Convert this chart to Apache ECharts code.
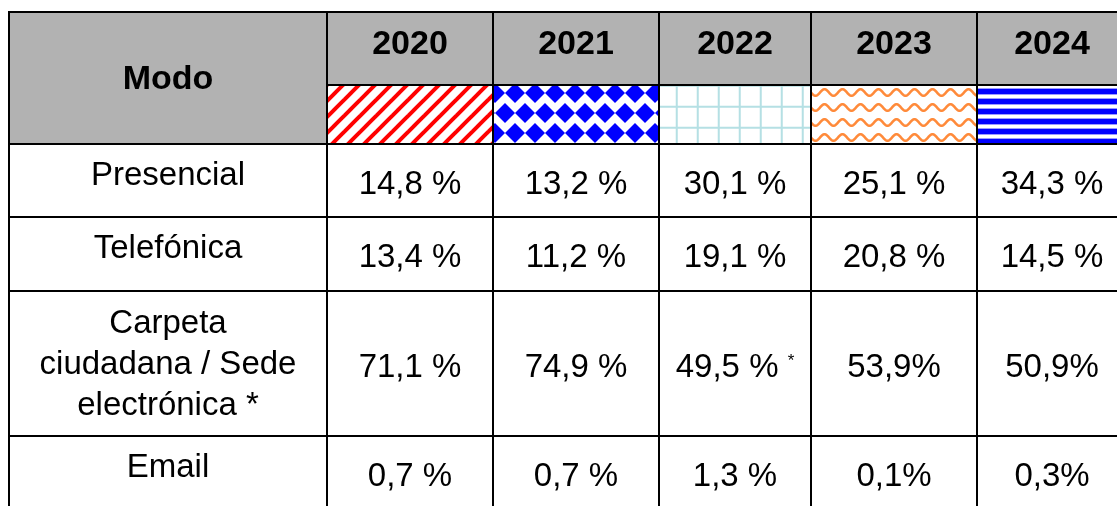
<!DOCTYPE html>
<html><head><meta charset="utf-8">
<script src="https://cdn.jsdelivr.net/npm/echarts@6/dist/echarts.min.js"></script>
<style>html,body{margin:0;padding:0;background:#fff}#chart{width:1117px;height:506px}</style>
</head><body><div id="chart"></div>
<script>
// ---- data ----
const headerLabel = 'Modo';
const years = ['2020', '2021', '2022', '2023', '2024'];
const modes = ['Presencial', 'Telefónica', 'Carpeta\nciudadana / Sede\nelectrónica *', 'Email'];
const presencial = [14.8, 13.2, 30.1, 25.1, 34.3];
const telefonica = [13.4, 11.2, 19.1, 20.8, 14.5];
const carpeta = [71.1, 74.9, 49.5, 53.9, 50.9];
const email = [0.7, 0.7, 1.3, 0.1, 0.3];
const compactPct = ['2-3', '2-4', '3-3', '3-4'];   // cells written "53,9%" (no space)
const footnoteCells = ['2-2'];                    // cells with a raised asterisk

// ---- layout (table grid in axis units) ----
const colEdges = [0, 318, 484, 650, 802, 968, 1118];
const rowEdges = [0, 73, 132, 205, 279, 424, 497];
const headerGrey = '#b2b2b2';
const FONT = '"Liberation Sans", Arial, Helvetica, sans-serif';

// ---- fill patterns ----
function tile(w, h, draw) {
  const c = document.createElement('canvas');
  c.width = w; c.height = h;
  const g = c.getContext('2d');
  g.fillStyle = '#fff'; g.fillRect(0, 0, w, h);
  draw(g, w, h);
  return c;
}
const patterns = [
  { canvas: tile(16, 16, g => {
      g.strokeStyle = '#ff0000'; g.lineWidth = 4;
      for (const k of [-16, 0, 16]) { g.beginPath(); g.moveTo(k - 3, 19); g.lineTo(k + 19, -3); g.stroke(); }
    }), dx: 0, dy: 0 },
  { canvas: tile(20, 40, g => {
      g.fillStyle = '#0000ff'; const d = 10;
      for (const [cx, cy] of [[10, 10], [0, 30], [20, 30]]) {
        g.beginPath(); g.moveTo(cx, cy - d); g.lineTo(cx + d, cy); g.lineTo(cx, cy + d); g.lineTo(cx - d, cy); g.closePath(); g.fill();
      }
    }), dx: 12, dy: -2 },
  { canvas: tile(21, 21, g => {
      g.fillStyle = '#b5e0e4';
      g.fillRect(0, 0, 2, 21); g.fillRect(0, 0, 21, 2);
    }), dx: 16.7, dy: 20.7 },
  { canvas: tile(18, 15, g => {
      g.strokeStyle = '#ff8a3a'; g.lineWidth = 2.6; g.beginPath();
      for (let x = -2; x <= 20; x += 0.5) {
        const yy = 7.5 + 3.3 * Math.sin(x / 18 * 2 * Math.PI);
        if (x === -2) g.moveTo(x, yy); else g.lineTo(x, yy);
      }
      g.stroke();
    }), dx: 0, dy: 0 },
  { canvas: tile(10, 10, g => {
      g.fillStyle = '#9a9aff'; g.fillRect(0, 3, 10, 1); g.fillRect(0, 9, 10, 1);
      g.fillStyle = '#0000ff'; g.fillRect(0, 4, 10, 5);
    }), dx: 0, dy: 0 }
];

// ---- cells ----
const valueRows = [presencial, telefonica, carpeta, email];
function fmt(v, key) {
  const s = v.toFixed(1).replace('.', ',');
  let t = compactPct.includes(key) ? s + '%' : s + ' %';
  if (footnoteCells.includes(key)) t += ' {s|*}';
  return t;
}
const cells = [];
cells.push({ value: [0, 0], kind: 'corner', rowSpan: 2, text: headerLabel });
years.forEach((yr, i) => {
  cells.push({ value: [i + 1, 0], kind: 'year', text: yr });
  cells.push({ value: [i + 1, 1], kind: 'swatch' });
});
modes.forEach((m, r) => {
  cells.push({ value: [0, r + 2], kind: 'mode', text: m });
  valueRows[r].forEach((v, c) => cells.push({ value: [c + 1, r + 2], kind: 'val', text: fmt(v, r + '-' + c) }));
});

const chart = echarts.init(document.getElementById('chart'));
chart.setOption({
  animation: false,
  backgroundColor: '#fff',
  grid: { left: 9, top: 12, width: 1108, height: 494 },
  xAxis: { type: 'value', min: 0, max: 1108, show: false },
  yAxis: { type: 'value', min: 0, max: 494, inverse: true, show: false },
  series: [{
    type: 'custom',
    coordinateSystem: 'cartesian2d',
    clip: false,
    silent: true,
    data: cells.map(c => c.value),
    renderItem(params, api) {
      const cell = cells[params.dataIndex];
      const c = api.value(0), r = api.value(1);
      const rs = cell.rowSpan || 1;
      const p0 = api.coord([colEdges[c], rowEdges[r]]);
      const p1 = api.coord([colEdges[c + 1], rowEdges[r + rs]]);
      const x = p0[0], y = p0[1], w = p1[0] - x, h = p1[1] - y;
      const cx = x + w / 2, cy = y + h / 2;
      let fill = '#fff';
      if (cell.kind === 'corner' || cell.kind === 'year') fill = headerGrey;
      if (cell.kind === 'swatch') {
        const p = patterns[c - 1];
        fill = { image: p.canvas, repeat: 'repeat', x: x + p.dx, y: y + p.dy };
      }
      const children = [{
        type: 'rect', shape: { x, y, width: w, height: h },
        style: { fill, stroke: '#000', lineWidth: 2 }
      }];
      if (cell.text) {
        const bold = cell.kind === 'corner' || cell.kind === 'year';
        let shift = 0;
        if (cell.kind === 'corner') shift = 1.5;
        else if (cell.kind === 'year') shift = -4;
        else if (cell.kind === 'mode') shift = cell.text.includes('\n') ? 1 : -5;
        else shift = 4;
        children.push({
          type: 'text',
          style: {
            text: cell.text, x: cx, y: cy + shift,
            align: 'center', verticalAlign: 'middle',
            fill: '#000', fontFamily: FONT,
            fontSize: bold ? 34 : 33, fontWeight: bold ? 'bold' : 'normal',
            lineHeight: 41,
            rich: { s: { fontSize: 17, fontFamily: FONT, padding: [0, 0, 13, 0], fill: '#000' } }
          }
        });
      }
      return { type: 'group', children };
    }
  }]
});
</script>
</body></html>
